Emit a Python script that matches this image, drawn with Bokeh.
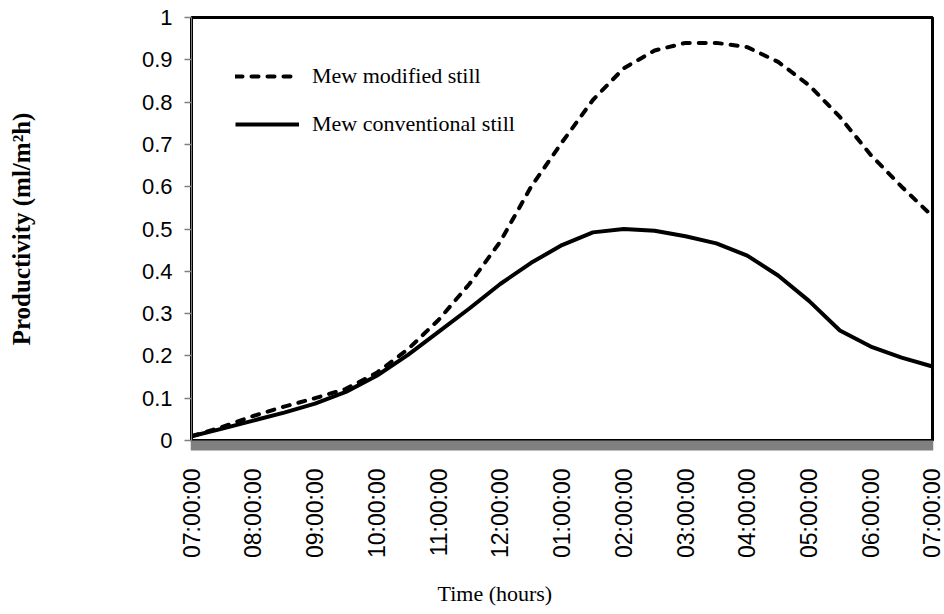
import math
from bokeh.plotting import figure
from bokeh.models import (Range1d, FixedTicker, CustomJSTickFormatter, Legend,
                          LegendItem, Title)
from bokeh.embed import file_html
from bokeh.resources import INLINE

# ---- data (half-hour steps) ----
times = ["07:00", "07:30", "08:00", "08:30", "09:00", "09:30", "10:00", "10:30",
         "11:00", "11:30", "12:00", "12:30", "01:00", "01:30", "02:00", "02:30",
         "03:00", "03:30", "04:00", "04:30", "05:00", "05:30", "06:00", "06:30",
         "07:00"]
modified_still = [0.010, 0.032, 0.058, 0.080, 0.100, 0.122, 0.160, 0.215,
                  0.285, 0.370, 0.470, 0.600, 0.705, 0.805, 0.880, 0.922,
                  0.940, 0.940, 0.930, 0.895, 0.840, 0.765, 0.675, 0.600, 0.530]
conventional_still = [0.010, 0.028, 0.047, 0.066, 0.087, 0.115, 0.153, 0.202,
                      0.257, 0.312, 0.370, 0.420, 0.462, 0.492, 0.500, 0.496,
                      0.483, 0.466, 0.437, 0.390, 0.330, 0.260, 0.222, 0.196, 0.175]
tick_labels = ["07:00:00", "08:00:00", "09:00:00", "10:00:00", "11:00:00",
               "12:00:00", "01:00:00", "02:00:00", "03:00:00", "04:00:00",
               "05:00:00", "06:00:00", "07:00:00"]
y_ticks = [0, 0.1, 0.2, 0.3, 0.4, 0.5, 0.6, 0.7, 0.8, 0.9, 1.0]

elapsed = [i * 0.5 for i in range(len(times))]   # hours since 07:00
n_hours = len(tick_labels) - 1

FW, FH = 741, 423
p = figure(frame_width=FW, frame_height=FH,
           x_range=Range1d(0, n_hours), y_range=Range1d(0, 1),
           output_backend="svg", toolbar_location=None,
           min_border_left=191, min_border_right=12,
           min_border_top=17, min_border_bottom=174,
           background_fill_color="white", border_fill_color="white",
           outline_line_color="black", outline_line_width=3)
p.grid.visible = False

# x axis (dense minor ticks form the grey band under the plot area)
xa = p.xaxis[0]
band_ticks = [i / 100 for i in range(n_hours * 100 + 1)]
xa.ticker = FixedTicker(ticks=list(range(len(tick_labels))), minor_ticks=band_ticks)
xa.formatter = CustomJSTickFormatter(args=dict(labels=tick_labels),
                                     code="return labels[Math.round(tick)] || '';")
xa.major_label_orientation = math.pi / 2
xa.major_tick_line_color = None
xa.major_tick_in = 0
xa.major_tick_out = 0
xa.minor_tick_line_color = "#808080"
xa.minor_tick_line_width = 1.5
xa.minor_tick_in = 0
xa.minor_tick_out = 10
xa.axis_line_color = None
xa.major_label_text_font = "Liberation Sans"
xa.major_label_text_font_size = "23px"
xa.major_label_text_color = "black"
xa.major_label_standoff = 18

# y axis
ya = p.yaxis[0]
ya.ticker = FixedTicker(ticks=y_ticks)
ya.formatter = CustomJSTickFormatter(code="return String(Math.round(tick*10)/10);")
ya.major_tick_out = 7
ya.major_tick_in = 0
ya.major_tick_line_color = "#808080"
ya.major_tick_line_width = 1.5
ya.minor_tick_line_color = None
ya.axis_line_color = "#808080"
ya.major_label_text_font = "Liberation Sans"
ya.major_label_text_font_size = "22px"
ya.major_label_text_color = "black"
ya.major_label_standoff = 12
ya.axis_label = "Productivity (ml/m²h)"
ya.axis_label_text_font = "Liberation Serif"
ya.axis_label_text_font_style = "bold"
ya.axis_label_text_font_size = "25px"
ya.axis_label_text_color = "black"
ya.axis_label_standoff = 104

r_mod = p.line(elapsed, modified_still, line_color="black", line_width=4,
               line_dash="7 9", line_cap="round")
r_con = p.line(elapsed, conventional_still, line_color="black", line_width=4)

legend = Legend(items=[LegendItem(label="Mew modified still", renderers=[r_mod]),
                       LegendItem(label="Mew conventional still", renderers=[r_con])],
                location=(44, 303), padding=0, margin=0, spacing=22,
                glyph_width=64, glyph_height=24, label_height=24,
                label_standoff=13, border_line_alpha=0, background_fill_alpha=0,
                label_text_font="Liberation Serif", label_text_font_size="22px",
                label_text_color="black")
p.add_layout(legend)

# x axis title (sits left of centre in the reference)
xt = Title(text="Time (hours)", align="left", offset=246, standoff=35,
           text_font="Liberation Serif", text_font_size="22px",
           text_font_style="normal", text_color="black")
p.add_layout(xt, "below")

open("out.html", "w").write(file_html(p, INLINE))
